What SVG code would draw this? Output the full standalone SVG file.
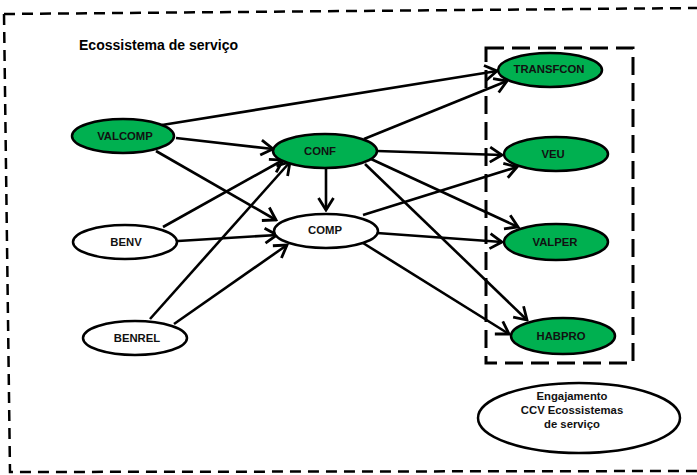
<svg xmlns="http://www.w3.org/2000/svg" width="697" height="475" viewBox="0 0 697 475">
  <style>
    .frame { fill: none; stroke: #000; stroke-width: 2.5; stroke-dasharray: 11 7; }
    .group { fill: none; stroke: #000; stroke-width: 3; stroke-dasharray: 18 8; }
    .node ellipse { stroke: #000; stroke-width: 2.5; }
    .green ellipse { fill: #00B050; }
    .white ellipse { fill: #fff; }
    .lbl { font-family: "Liberation Sans", Arial, sans-serif; font-weight: bold; font-size: 11.3px; fill: #111; text-anchor: middle; }
    .title { font-family: "Liberation Sans", Arial, sans-serif; font-weight: bold; font-size: 14px; fill: #000; }
    .edge { stroke: #000; stroke-width: 2.6; fill: none; marker-end: url(#arrow); }
  </style>
  <defs>
    <marker id="arrow" markerUnits="userSpaceOnUse" viewBox="-14 -9 16 18" markerWidth="16" markerHeight="18" refX="0" refY="0" orient="auto">
      <path d="M-12,-7.5 L0,0 L-12,7.5" fill="none" stroke="#000" stroke-width="2.8" stroke-linejoin="miter"/>
    </marker>
  </defs>

  <rect width="697" height="475" fill="#fff"/>

  <!-- outer dashed boundary -->
  <path class="frame" d="M4,14 L697,8 M4,14 L10,472 L697,471"/>

  <!-- dashed grouping of outcomes -->
  <rect class="group" x="486" y="48" width="147" height="315"/>

  <text class="title" x="79" y="50" textLength="159" lengthAdjust="spacingAndGlyphs">Ecossistema de serviço</text>

  <!-- connectors -->
  <g id="connectors">
    <line class="edge" x1="162" y1="125" x2="497" y2="71"/>
    <line class="edge" x1="176" y1="138" x2="273" y2="149"/>
    <line class="edge" x1="156" y1="151" x2="276" y2="220"/>
    <line class="edge" x1="163" y1="227" x2="283" y2="160"/>
    <line class="edge" x1="178" y1="241" x2="277" y2="235"/>
    <line class="edge" x1="150" y1="319" x2="290" y2="162"/>
    <line class="edge" x1="174" y1="324" x2="287" y2="245"/>
    <line class="edge" x1="326" y1="168" x2="326" y2="210"/>
    <line class="edge" x1="364" y1="139" x2="507" y2="81"/>
    <line class="edge" x1="377" y1="151" x2="502" y2="155"/>
    <line class="edge" x1="371" y1="159" x2="518" y2="227"/>
    <line class="edge" x1="365" y1="164" x2="527" y2="320"/>
    <line class="edge" x1="363" y1="215" x2="517" y2="167"/>
    <line class="edge" x1="377" y1="233" x2="502" y2="242"/>
    <line class="edge" x1="363" y1="243" x2="509" y2="334"/>
  </g>

  <!-- nodes -->
  <g id="VALCOMP" class="node green">
    <ellipse cx="123" cy="136" rx="51" ry="17"/>
    <text class="lbl" x="125" y="140">VALCOMP</text>
  </g>
  <g id="CONF" class="node green">
    <ellipse cx="325" cy="151" rx="52" ry="17"/>
    <text class="lbl" x="320" y="155">CONF</text>
  </g>
  <g id="COMP" class="node white">
    <ellipse cx="326" cy="231" rx="52" ry="17"/>
    <text class="lbl" x="325" y="234">COMP</text>
  </g>
  <g id="BENV" class="node white">
    <ellipse cx="125" cy="242" rx="52" ry="17"/>
    <text class="lbl" x="126" y="246">BENV</text>
  </g>
  <g id="BENREL" class="node white">
    <ellipse cx="135" cy="338" rx="52" ry="17"/>
    <text class="lbl" x="137" y="342">BENREL</text>
  </g>
  <g id="TRANSFCON" class="node green">
    <ellipse cx="550" cy="70" rx="52" ry="17"/>
    <text class="lbl" x="549" y="73">TRANSFCON</text>
  </g>
  <g id="VEU" class="node green">
    <ellipse cx="556" cy="154" rx="52" ry="17"/>
    <text class="lbl" x="553" y="158">VEU</text>
  </g>
  <g id="VALPER" class="node green">
    <ellipse cx="556" cy="242" rx="52" ry="18"/>
    <text class="lbl" x="555" y="246">VALPER</text>
  </g>
  <g id="HABPRO" class="node green">
    <ellipse cx="563" cy="336" rx="52" ry="18"/>
    <text class="lbl" x="561" y="340">HABPRO</text>
  </g>
  <g id="legend" class="node white">
    <ellipse cx="579" cy="418" rx="101" ry="35"/>
    <text class="lbl" x="572" y="400">Engajamento</text>
    <text class="lbl" x="572" y="414">CCV Ecossistemas</text>
    <text class="lbl" x="572" y="428">de serviço</text>
  </g>
</svg>
